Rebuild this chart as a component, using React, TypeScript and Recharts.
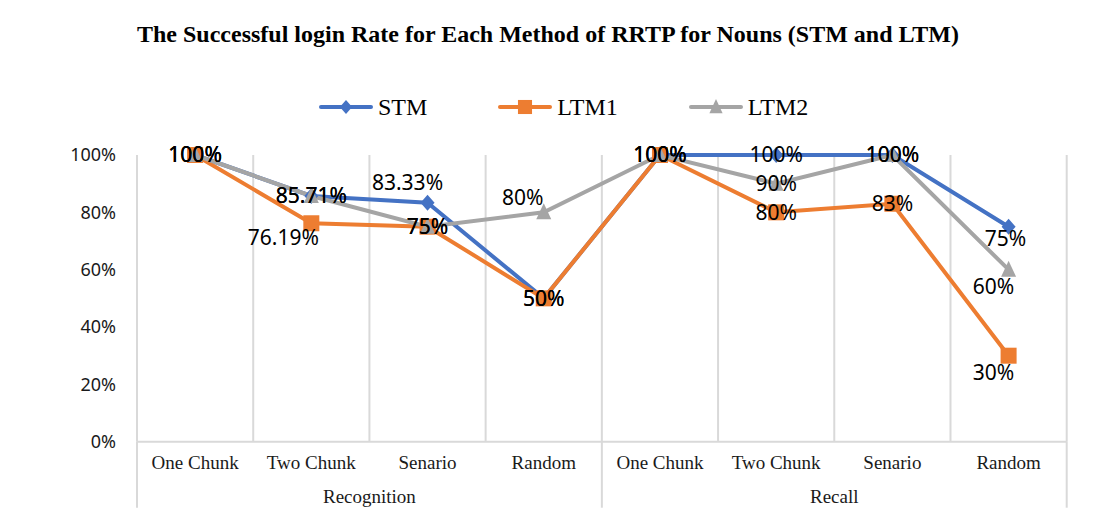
import React from 'react';
import { LineChart, Line, XAxis, YAxis, CartesianGrid, LabelList, Legend } from 'recharts';

// ---- data ----
const methods = ['One Chunk', 'Two Chunk', 'Senario', 'Random', 'One Chunk', 'Two Chunk', 'Senario', 'Random'];
const groups = ['Recognition', 'Recall'];
const stm = [100, 85.71, 83.33, 50, 100, 100, 100, 75];
const ltm1 = [100, 76.19, 75, 50, 100, 80, 83, 30];
const ltm2 = [100, 85.71, 75, 80, 100, 90, 100, 60];
const yTicks = [0, 20, 40, 60, 80, 100];
const seriesNames = ['STM', 'LTM1', 'LTM2'];
const seriesKeys = ['stm', 'ltm1', 'ltm2'];

// each category occupies one unit slot; its point sits at the slot centre
const data = methods.map((m, i) => ({ pos: i + 0.5, method: m, stm: stm[i], ltm1: ltm1[i], ltm2: ltm2[i] }));
const catTicks = data.map((d) => d.pos);
const groupSize = methods.length / groups.length;
const boundaryTicks = Array.from({ length: methods.length + 1 }, (_, i) => i);

// ---- styling ----
const colors = ['#4472C4', '#ED7D31', '#A5A5A5'];
const shapes = ['diamond', 'square', 'triangle'];
const GRID = '#d9d9d9';
const TEXT = '#1a1a1a';
const SERIF = '"Liberation Serif", "Times New Roman", serif';
const SANS = '"Noto Sans", "Open Sans", sans-serif';

// label offsets (dx, dy) relative to the point, per series and index
const labelShift: Record<string, Record<number, [number, number]>> = {
  stm: { 2: [-20, -20], 7: [-3, 12] },
  ltm1: { 1: [-28, 14], 7: [-15, 17] },
  ltm2: { 3: [-21, -15], 7: [-15, 17] },
};

function Marker({ shape, cx, cy, color, s = 1 }: any) {
  if (shape === 'diamond') {
    const w = 7 * s, h = 8 * s;
    return <polygon points={`${cx},${cy - h} ${cx + w},${cy} ${cx},${cy + h} ${cx - w},${cy}`} fill={color} />;
  }
  if (shape === 'square') {
    const h = 8 * s;
    return <rect x={cx - h} y={cy - h} width={2 * h} height={2 * h} fill={color} />;
  }
  const w = 7.5 * s;
  return <polygon points={`${cx},${cy - 9 * s} ${cx + w},${cy + 7 * s} ${cx - w},${cy + 7 * s}`} fill={color} />;
}

const makeDot = (idx: number) => (props: any) => {
  const { cx, cy, index } = props;
  if (cx == null || cy == null) return <g key={`n-${idx}-${index}`} />;
  return <Marker key={`m-${idx}-${index}`} shape={shapes[idx]} cx={cx} cy={cy} color={colors[idx]} />;
};

const makeLabel = (key: string) => (props: any) => {
  const { x, y, value, index } = props;
  if (x == null || y == null) return null;
  const sh = labelShift[key][index] || [0, 0];
  const fs = 21;
  return (
    <text
      key={`l-${key}-${index}`}
      x={x + sh[0]}
      y={y + sh[1] + fs * 0.357}
      textAnchor="middle"
      fontFamily={SANS}
      fontSize={fs}
      fill="#000"
    >
      {`${value}%`}
    </text>
  );
};

const GroupTick = (props: any) => {
  const { x, y, payload } = props;
  const v = payload.value;
  if (v % groupSize === 0) {
    return <line x1={x} x2={x} y1={y - 40} y2={y + 26} stroke={GRID} strokeWidth={2} />;
  }
  if (v % groupSize === groupSize / 2) {
    const g = groups[(v - groupSize / 2) / groupSize];
    return (
      <text x={x} y={y + 21.3} textAnchor="middle" fontFamily={SERIF} fontSize={19} fill={TEXT}>
        {g}
      </text>
    );
  }
  return <g />;
};

const renderLegend = (props: any) => {
  const payload = props.payload || [];
  const items = seriesNames
    .map((n) => payload.find((p: any) => p.value === n))
    .filter(Boolean);
  return (
    <div style={{ display: 'flex', alignItems: 'center', height: 24 }}>
      {items.map((p: any) => {
        const i = seriesNames.indexOf(p.value);
        return (
          <div key={p.value} style={{ display: 'flex', alignItems: 'center', marginRight: 71 }}>
            <svg width={54} height={24} style={{ display: 'block' }}>
              <line x1={2} x2={52} y1={12} y2={12} stroke={colors[i]} strokeWidth={4} strokeLinecap="round" />
              <Marker shape={shapes[i]} cx={27} cy={12} color={colors[i]} s={0.88} />
            </svg>
            <span style={{ fontFamily: SERIF, fontSize: 24, lineHeight: '24px', color: '#000', marginLeft: 5 }}>
              {p.value}
            </span>
          </div>
        );
      })}
    </div>
  );
};

export default function App() {
  return (
    <div
      style={{
        position: 'relative',
        width: 1094,
        height: 523,
        margin: '-4px 0 0 -2px',
        borderTop: `2px solid ${GRID}`,
        borderLeft: `2px solid ${GRID}`,
        background: '#fff',
      }}
    >
      <LineChart
        width={1094}
        height={523}
        data={data}
        margin={{ top: 149, right: 35.3, bottom: 7.3, left: 0 }}
      >
        <CartesianGrid xAxisId="grp" vertical horizontal={false} stroke={GRID} strokeWidth={2} />
        <XAxis
          xAxisId="cat"
          dataKey="pos"
          type="number"
          domain={[0, methods.length]}
          allowDataOverflow
          ticks={catTicks}
          interval={0}
          tickFormatter={(v: number) => methods[Math.floor(v)]}
          tickLine={false}
          axisLine={{ stroke: GRID, strokeWidth: 2 }}
          height={40}
          tickMargin={8}
          tick={{ fontFamily: SERIF, fontSize: 19, fill: TEXT }}
        />
        <XAxis
          xAxisId="grp"
          dataKey="pos"
          type="number"
          domain={[0, methods.length]}
          allowDataOverflow
          ticks={boundaryTicks}
          interval={0}
          axisLine={false}
          tickLine={false}
          tickSize={0}
          tickMargin={0}
          height={40}
          tick={<GroupTick />}
        />
        <YAxis
          width={129}
          domain={[0, 100]}
          ticks={yTicks}
          tickFormatter={(v: number) => `${v}%`}
          axisLine={false}
          tickLine={false}
          tickMargin={15}
          tick={{ fontFamily: SANS, fontSize: 18, fill: TEXT }}
        />
        <Legend
          verticalAlign="middle"
          align="center"
          layout="horizontal"
          content={renderLegend}
          wrapperStyle={{ top: 89, left: 311, width: 700 }}
        />
        {seriesKeys.map((k, i) => (
          <Line
            key={k}
            xAxisId="cat"
            dataKey={k}
            name={seriesNames[i]}
            stroke={colors[i]}
            strokeWidth={4}
            dot={makeDot(i)}
            activeDot={false}
            isAnimationActive={false}
          />
        ))}
        {seriesKeys.map((k) => (
          <Line
            key={`lab-${k}`}
            xAxisId="cat"
            dataKey={k}
            name={`${k}-labels`}
            stroke="none"
            dot={false}
            activeDot={false}
            legendType="none"
            isAnimationActive={false}
          >
            <LabelList dataKey={k} content={makeLabel(k)} />
          </Line>
        ))}
      </LineChart>
      <svg
        width={1094}
        height={60}
        style={{ position: 'absolute', left: 0, top: 0, pointerEvents: 'none' }}
      >
        <text
          x={540}
          y={35.7}
          textAnchor="middle"
          fontFamily={SERIF}
          fontWeight="bold"
          fontSize={23}
          textLength={822}
          lengthAdjust="spacingAndGlyphs"
          fill="#000"
        >
          The Successful login Rate for Each Method of RRTP for Nouns (STM and LTM)
        </text>
      </svg>
    </div>
  );
}
